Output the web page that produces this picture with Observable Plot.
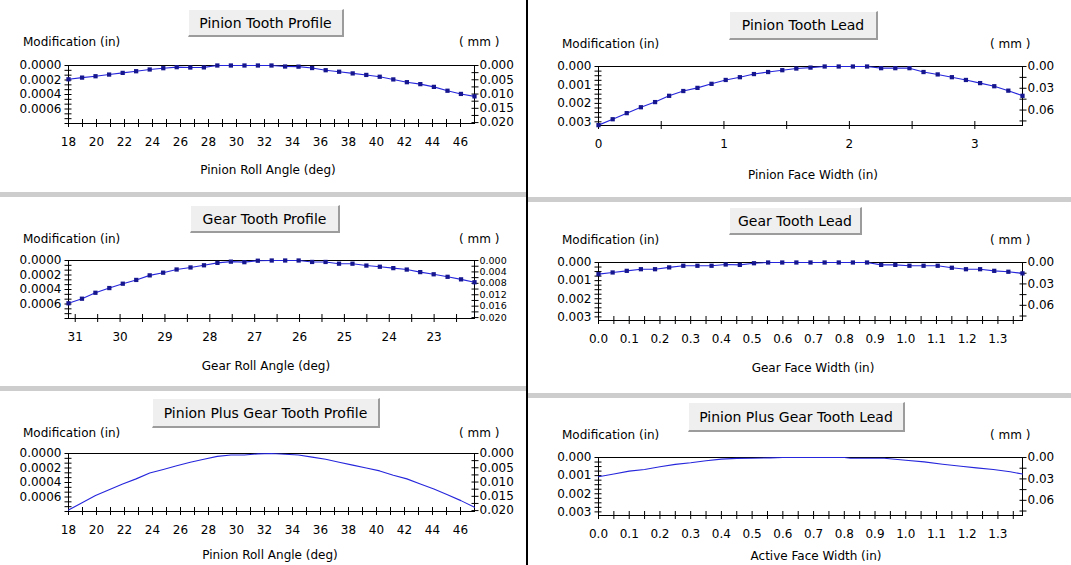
<!DOCTYPE html>
<html>
<head>
<meta charset="utf-8">
<script src="https://cdn.jsdelivr.net/npm/d3@7"></script>
<script src="https://cdn.jsdelivr.net/npm/@observablehq/plot@0.6"></script>
<style>
  body { margin: 0; background: #fff; }
  #page { position: relative; width: 1071px; height: 565px; overflow: hidden; background: #fff;
          font-family: "DejaVu Sans", sans-serif; color: #000; }
  .txt { position: absolute; white-space: nowrap; font-size: 12px; line-height: 14px; }
  .box { position: absolute; box-sizing: border-box; background: #efefef;
         border-style: solid; border-width: 1px 2px 2px 1px; border-color: #fff #9c9c9c #9c9c9c #fff;
         display: flex; align-items: center; justify-content: center; font-size: 14px; white-space: nowrap; }
  .band { position: absolute; height: 5px; background: #cdcdcd; }
  .divider { position: absolute; left: 526px; top: 0; width: 2px; height: 565px; background: #000; }
</style>
</head>
<body>
<div id="page"></div>
<script>
// ---- Pinion tooth profile (roll angle, deg) ----
const pinionRollAngle = [18.0, 18.97, 19.93, 20.9, 21.87, 22.83, 23.8, 24.77, 25.73, 26.7, 27.67, 28.63, 29.6, 30.57,
  31.53, 32.5, 33.47, 34.43, 35.4, 36.37, 37.33, 38.3, 39.27, 40.23, 41.2, 42.17, 43.13, 44.1, 45.07, 46.03, 47.0];
const pinionProfileMod = [0.00019, 0.000167, 0.000148, 0.000125, 0.000102, 0.000079, 0.000055, 0.000037, 0.000023,
  0.000028, 0.000026, 0, 0, 0, 0, 0, 0.000014, 0.000016, 0.000035, 0.000065, 0.000086, 0.000109, 0.00013, 0.000155,
  0.000192, 0.00023, 0.000257, 0.000295, 0.000348, 0.000392, 0.000426];

// ---- Gear tooth profile (gear roll angle runs downward) ----
const gearRollAngle = [31.15, 30.85, 30.55, 30.24, 29.94, 29.64, 29.34, 29.04, 28.74, 28.43, 28.13, 27.83, 27.53,
  27.23, 26.93, 26.62, 26.32, 26.02, 25.72, 25.42, 25.12, 24.82, 24.51, 24.21, 23.91, 23.61, 23.31, 23.01, 22.7, 22.4, 22.1];
const gearProfileMod = [0.00059, 0.000527, 0.000445, 0.00038, 0.00032, 0.000268, 0.000205, 0.000168, 0.000124,
  0.000096, 0.000066, 0.000033, 0.000016, 0.000023, 0.000003, 0, 0, 0, 0.00002, 0.00002, 0.000044, 0.000044, 0.00007,
  0.000086, 0.000105, 0.000125, 0.00016, 0.00019, 0.000225, 0.00026, 0.0003];

// ---- Combined profile, on the pinion roll angle ----
const combinedProfileMod = [0.00078, 0.00068, 0.00058, 0.0005, 0.00042, 0.00035, 0.00027, 0.00022, 0.00017, 0.00012,
  0.00008, 0.00004, 0.00002, 0.00002, 0.000005, 0, 0.00001, 0.00002, 0.00005, 0.00008, 0.00012, 0.00016, 0.0002,
  0.00024, 0.0003, 0.00035, 0.00042, 0.00049, 0.00057, 0.00065, 0.00074];

// ---- Pinion tooth lead (face width, in) ----
const pinionFaceWidth = [0, 0.113, 0.225, 0.338, 0.451, 0.563, 0.676, 0.789, 0.901, 1.014, 1.127, 1.239, 1.352, 1.465,
  1.577, 1.69, 1.803, 1.915, 2.028, 2.141, 2.253, 2.366, 2.479, 2.591, 2.704, 2.817, 2.929, 3.042, 3.155, 3.267, 3.38];
const pinionLeadMod = [0.00318, 0.00286, 0.00253, 0.00221, 0.00193, 0.00159, 0.00133, 0.00116, 0.00094, 0.00073,
  0.00058, 0.00041, 0.0003, 0.0002, 0.00011, 0.00006, 0, 0, 0, 0, 0.00009, 0.00009, 0.00009, 0.0003, 0.00043, 0.00058,
  0.00073, 0.0009, 0.00107, 0.00131, 0.00159];

// ---- Gear tooth lead ----
const gearFaceWidth = [0, 0.046, 0.092, 0.138, 0.184, 0.23, 0.276, 0.322, 0.368, 0.414, 0.46, 0.506, 0.552, 0.598,
  0.644, 0.69, 0.736, 0.782, 0.828, 0.874, 0.92, 0.966, 1.012, 1.058, 1.104, 1.15, 1.196, 1.242, 1.288, 1.334, 1.38];
const gearLeadMod = [0.00064, 0.00055, 0.00046, 0.00037, 0.00037, 0.00027, 0.00018, 0.00018, 0.00018, 0.00011,
  0.00013, 0.00004, 0, 0, 0, 0, 0, 0, 0, 0, 0.00013, 0.00013, 0.00018, 0.00018, 0.00018, 0.00029, 0.00037, 0.00037,
  0.00046, 0.00051, 0.0006];

// ---- Combined lead, on the active face width ----
const activeFaceWidth = [0, 0.05, 0.1, 0.15, 0.2, 0.25, 0.3, 0.35, 0.4, 0.45, 0.5, 0.56, 0.6, 0.7, 0.8, 0.82, 0.93,
  1.0, 1.06, 1.12, 1.18, 1.23, 1.285, 1.34, 1.38];
const combinedLeadMod = [0.00106, 0.00091, 0.00075, 0.00066, 0.00051, 0.00038, 0.00029, 0.00018, 0.00009, 0.00005,
  0.00004, 0.00002, 0, 0, 0, 0.00004, 0.00004, 0.00015, 0.00024, 0.00037, 0.00048, 0.00057, 0.00066, 0.00079, 0.00091];

// ---- Tick labels ----
const rollAngleTicks = [18, 20, 22, 24, 26, 28, 30, 32, 34, 36, 38, 40, 42, 44, 46];
const gearAngleTicks = [31, 30, 29, 28, 27, 26, 25, 24, 23];
const pinionWidthTicks = [0, 1, 2, 3];
const faceWidthTicks = [0, 0.1, 0.2, 0.3, 0.4, 0.5, 0.6, 0.7, 0.8, 0.9, 1.0, 1.1, 1.2, 1.3];
const profileInTicks = [0, 0.0002, 0.0004, 0.0006];
const leadInTicks = [0, 0.001, 0.002, 0.003];
const profileMmTicks = [0, 0.005, 0.01, 0.015, 0.02];
const gearProfileMmTicks = [0, 0.004, 0.008, 0.012, 0.016, 0.02];
const leadMmTicks = [0, 0.03, 0.06];

const MM_PER_IN = 25.4;
const page = document.getElementById("page");
const LEFT = {left: 0, width: 526, mmOffset: 15};
const RIGHT = {left: 528, width: 543, mmOffset: 32};

function addText(str, x, y, anchor = "start", size = 12) {
  const d = document.createElement("div");
  d.className = "txt";
  d.textContent = str;
  d.style.fontSize = size + "px";
  d.style.left = x + "px";
  d.style.top = (y - 7) + "px";
  if (anchor === "middle") d.style.transform = "translateX(-50%)";
  page.appendChild(d);
}
function addBox(str, x0, y0, x1, y1) {
  const d = document.createElement("div");
  d.className = "box";
  d.textContent = str;
  Object.assign(d.style, {left: x0 + "px", top: y0 + "px", width: (x1 - x0) + "px", height: (y1 - y0) + "px"});
  page.appendChild(d);
}
function addBand(col, y) {
  const d = document.createElement("div");
  d.className = "band";
  Object.assign(d.style, {left: col.left + "px", width: col.width + "px", top: y + "px"});
  page.appendChild(d);
}

function panel(p) {
  const mt = 10, mb = 40;
  const h = p.y1 - p.y0;
  const data = p.xs.map((x, i) => ({x, y: p.ys[i]}));
  const chart = Plot.plot({
    width: p.col.width,
    height: h + mt + mb,
    marginLeft: p.x0 - p.col.left,
    marginRight: p.col.left + p.col.width - p.x1,
    marginTop: mt,
    marginBottom: mb,
    style: {fontFamily: "DejaVu Sans, sans-serif", fontSize: "12px", background: "transparent", color: "#000", overflow: "visible"},
    x: {domain: p.xDomain, axis: null},
    y: {domain: [0, p.yMax], reverse: true, axis: null},
    marks: [
      Plot.axisY(p.yMinor, {anchor: "left", tickSize: 7, dx: 3.5, fill: "none", label: null}),
      Plot.axisY(p.yTicks, {anchor: "left", tickSize: 0, tickPadding: 7, tickFormat: p.yFmt, label: null}),
      Plot.axisY(p.mmMinor.map(m => m / MM_PER_IN), {anchor: "right", tickSize: 7, dx: -3.5, fill: "none", label: null}),
      Plot.axisY(p.mmTicks.map(m => m / MM_PER_IN), {anchor: "right", tickSize: 0, tickPadding: 5,
        fontSize: p.mmFontSize || 12,
        tickFormat: d => (d * MM_PER_IN).toFixed(p.mmDigits), label: null}),
      Plot.axisX(p.xMinor, {anchor: "bottom", tickSize: 8, dy: -4, fill: "none", label: null}),
      Plot.axisX(p.xTicks, {anchor: "bottom", tickSize: 0, tickPadding: 14, tickFormat: p.xFmt, label: null}),
      Plot.frame({stroke: "#000"}),
      Plot.line(data, {x: "x", y: "y", stroke: "#2626dc", strokeWidth: 1.1}),
      p.dots ? Plot.dot(data, {x: "x", y: "y", symbol: "square", r: 2.4, fill: "#16168f"}) : null
    ]
  });
  chart.style.position = "absolute";
  chart.style.left = p.col.left + "px";
  chart.style.top = (p.y0 - mt) + "px";
  page.appendChild(chart);

  addBox(p.title, ...p.titleBox);
  addText("Modification (in)", p.col.left + (p.col === LEFT ? 23 : 34), p.modY);
  addText("( mm )", p.x1 - p.col.mmOffset, p.modY);
  addText(p.xLabel, p.xLabelPos[0], p.xLabelPos[1], "middle");
}

const profileY = {yMax: 0.0008, yTicks: profileInTicks, yMinor: d3.range(0, 0.00081, 0.0008 / 12), yFmt: d => d.toFixed(4)};
const leadY = {yMax: 0.0032, yTicks: leadInTicks, yMinor: d3.range(0, 0.0031, 0.00025), yFmt: d => d.toFixed(3),
  mmTicks: leadMmTicks, mmMinor: [0, 0.015, 0.03, 0.045, 0.06, 0.075], mmDigits: 2};
const rollX = {xDomain: [18, 47], xTicks: rollAngleTicks, xMinor: d3.range(18, 47, 1), xFmt: d => String(d)};
const faceX = {xDomain: [0, 1.38], xTicks: faceWidthTicks, xMinor: d3.range(0, 1.38, 0.05), xFmt: d => d.toFixed(1)};

panel({col: LEFT, x0: 68, x1: 474, y0: 65, y1: 123, ...profileY, ...rollX,
  mmTicks: profileMmTicks, mmMinor: d3.range(0, 0.0201, 0.0025), mmDigits: 3,
  xs: pinionRollAngle, ys: pinionProfileMod, dots: true,
  title: "Pinion Tooth Profile", titleBox: [188, 9, 344, 37], modY: 42,
  xLabel: "Pinion Roll Angle (deg)", xLabelPos: [268, 170]});

panel({col: RIGHT, x0: 598, x1: 1022, y0: 66, y1: 125, ...leadY,
  xDomain: [0, 3.38], xTicks: pinionWidthTicks, xMinor: [0, 0.5, 1, 1.5, 2, 2.5, 3], xFmt: d => String(d),
  xs: pinionFaceWidth, ys: pinionLeadMod, dots: true,
  title: "Pinion Tooth Lead", titleBox: [729, 11, 878, 40], modY: 44,
  xLabel: "Pinion Face Width (in)", xLabelPos: [813, 175]});

panel({col: LEFT, x0: 68, x1: 474, y0: 260, y1: 318, ...profileY,
  xDomain: [31.15, 22.1], xTicks: gearAngleTicks, xMinor: d3.range(31, 22.2, -0.5), xFmt: d => String(d),
  mmTicks: gearProfileMmTicks, mmMinor: d3.range(0, 0.0201, 0.002), mmDigits: 3, mmFontSize: 9.5,
  xs: gearRollAngle, ys: gearProfileMod, dots: true,
  title: "Gear Tooth Profile", titleBox: [190, 205, 340, 233], modY: 239,
  xLabel: "Gear Roll Angle (deg)", xLabelPos: [266, 366]});

panel({col: RIGHT, x0: 598, x1: 1022, y0: 262, y1: 320, ...leadY, ...faceX,
  xs: gearFaceWidth, ys: gearLeadMod, dots: true,
  title: "Gear Tooth Lead", titleBox: [729, 207, 862, 235], modY: 240,
  xLabel: "Gear Face Width (in)", xLabelPos: [813, 368]});

panel({col: LEFT, x0: 68, x1: 474, y0: 453, y1: 511, ...profileY, ...rollX,
  mmTicks: profileMmTicks, mmMinor: d3.range(0, 0.0201, 0.0025), mmDigits: 3,
  xs: pinionRollAngle, ys: combinedProfileMod, dots: false,
  title: "Pinion Plus Gear Tooth Profile", titleBox: [152, 398, 380, 428], modY: 433,
  xLabel: "Pinion Roll Angle (deg)", xLabelPos: [270, 555]});

panel({col: RIGHT, x0: 598, x1: 1022, y0: 457, y1: 515, ...leadY, ...faceX,
  xs: activeFaceWidth, ys: combinedLeadMod, dots: false,
  title: "Pinion Plus Gear Tooth Lead", titleBox: [688, 402, 905, 432], modY: 435,
  xLabel: "Active Face Width (in)", xLabelPos: [816, 556]});

addBand(LEFT, 192);
addBand(RIGHT, 197);
addBand(LEFT, 386);
addBand(RIGHT, 393);
const div = document.createElement("div");
div.className = "divider";
page.appendChild(div);
</script>
</body>
</html>
